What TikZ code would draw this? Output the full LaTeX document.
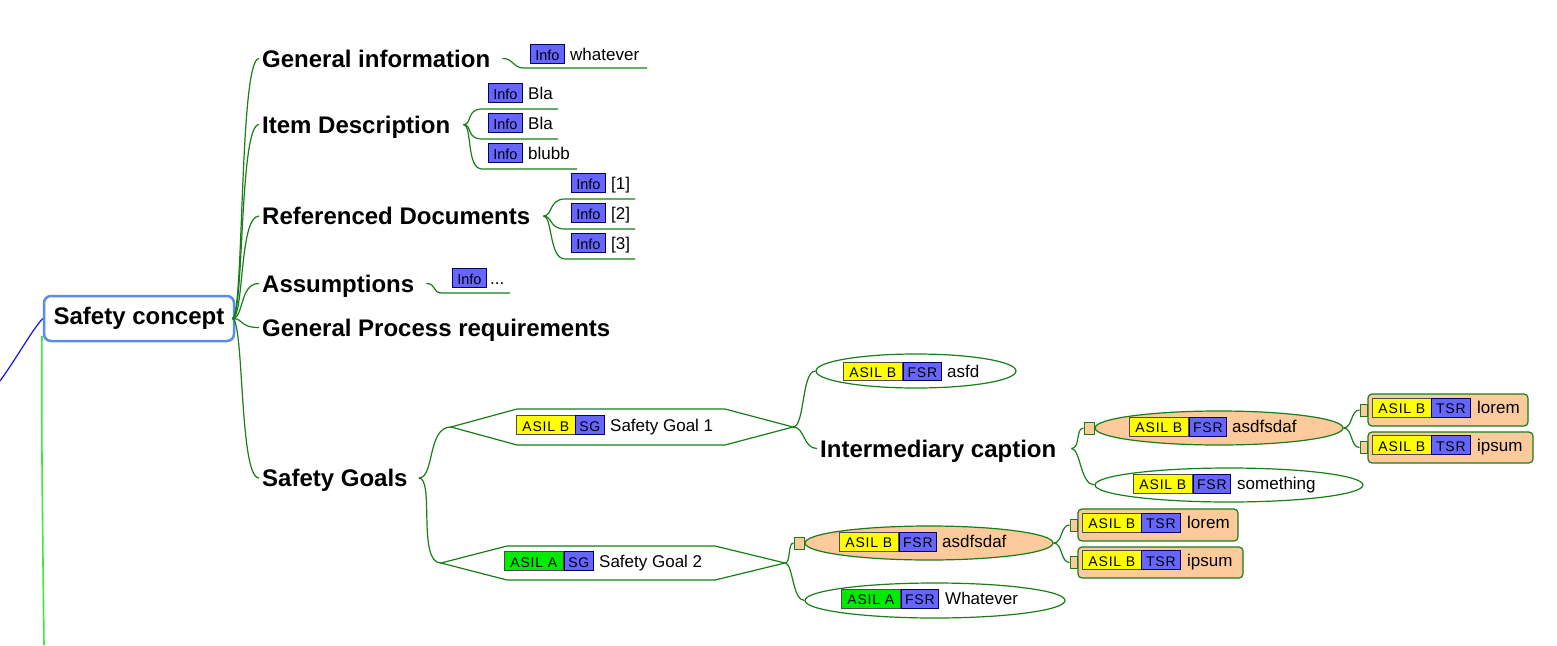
\documentclass[tikz,border=0pt]{standalone}
\usepackage{fontspec}
\setmainfont{Liberation Sans}
\newfontfamily\tagfont[LetterSpace=6]{Liberation Sans}
\usetikzlibrary{shapes.geometric}
\definecolor{lg}{RGB}{25,125,25}
\definecolor{tagblue}{RGB}{102,102,255}
\definecolor{tagyel}{RGB}{255,255,0}
\definecolor{taggrn}{RGB}{0,235,0}
\definecolor{orng}{RGB}{252,202,155}
\definecolor{rootblue}{RGB}{90,140,240}
\definecolor{brgreen}{RGB}{60,235,60}
\definecolor{lineblue}{RGB}{20,20,230}
\begin{document}
\begin{tikzpicture}[x=1pt,y=-1pt,
  conn/.style={draw=lg, line width=1.2},
  big/.style={font=\fontsize{24}{27}\selectfont\bfseries, inner xsep=3, inner ysep=0, text height=17, text depth=0, anchor=west},
  small/.style={font=\fontsize{17}{19}\selectfont, inner sep=0, text height=12, text depth=0, anchor=west},
  tagbase/.style={inner sep=0, minimum height=19, text height=12, text depth=0, anchor=west, line width=0.7},
  infotag/.style={tagbase, font=\fontsize{14.5}{16}\selectfont, fill=tagblue, draw=blue!40!black, minimum width=34},
  tagY/.style={tagbase, font=\tagfont\fontsize{14}{15}\selectfont, fill=tagyel, draw=black!70, minimum width=59},
  tagG/.style={tagbase, font=\tagfont\fontsize{14}{15}\selectfont, fill=taggrn, draw=black!70, minimum width=59},
  tagB/.style={tagbase, font=\tagfont\fontsize{14}{15}\selectfont, fill=tagblue, draw=blue!40!black, minimum width=37},
  rootbox/.style={draw=rootblue, line width=2.5, rounded corners=7, fill=white, minimum width=190, minimum height=45, inner sep=0, font=\fontsize{24}{27}\selectfont\bfseries},
  ell/.style={ellipse, draw=lg, line width=1.2, fill=white, inner sep=0},
  oell/.style={ell, fill=orng},
  sq/.style={draw=lg, line width=1, fill=orng, inner sep=0, minimum width=10, minimum height=12},
  sqs/.style={draw=lg, line width=1, fill=orng, inner sep=0, minimum width=7, minimum height=12},
  rbox/.style={draw=lg, line width=1.2, fill=orng, rounded corners=4, inner sep=0},
  hexa/.style={draw=lg, line width=1.2, fill=white}
]
\useasboundingbox (0,0) rectangle (1557,645);

% root
\node[rootbox] (root) at (139,318.5) {Safety concept};
\coordinate (bl) at (0,381);
\draw[draw=lineblue, line width=1.2] (bl) .. controls (18,356) and (32,330) .. (root.west);
\coordinate (gtop) at (42,336);
\coordinate (gbot) at (44,645);
\draw[draw=brgreen, line width=1.6] (gtop) .. controls (41,420) and (43,560) .. (gbot);

% first level
\node[big] (gi) at (259,58.5) {General information};
\node[big] (id) at (259,124.5) {Item Description};
\node[big] (rd) at (259,216) {Referenced Documents};
\node[big] (as) at (259,283.5) {Assumptions};
\node[big] (gp) at (259,327.5) {General Process requirements};
\node[big] (sgs) at (259,478) {Safety Goals};

\foreach \n in {gi,id,rd,as,gp,sgs}
  \draw[conn] ([xshift=-3]root.east) .. controls +(12,0) and +(-20,0) .. (\n.west);

% General information
\node[infotag] (gi1) at (530,54) {Info};
\node[small] (gi1t) at (570,54) {whatever};
\coordinate (gi1a) at (524,68); \coordinate (gi1b) at (647,68);
\draw[conn] ([xshift=9]gi.east) .. controls +(12,0) and +(-12,0) .. (gi1a) -- (gi1b);

% Item Description
\node[infotag] (id1) at (488,93) {Info};
\node[small] (id1t) at (528,93) {Bla};
\node[infotag] (id2) at (488,123) {Info};
\node[small] (id2t) at (528,123) {Bla};
\node[infotag] (id3) at (488,153) {Info};
\node[small] (id3t) at (528,153) {blubb};
\coordinate (id1a) at (482,109); \coordinate (id1b) at (558,109);
\coordinate (id2a) at (482,139); \coordinate (id2b) at (558,139);
\coordinate (id3a) at (482,169); \coordinate (id3b) at (577,169);
\foreach \k in {1,2,3}
  \draw[conn] ([xshift=10]id.east) .. controls +(9,0) and +(-16,0) .. (id\k a) -- (id\k b);

% Referenced Documents
\node[infotag] (rd1) at (571,183) {Info};
\node[small] (rd1t) at (611,183) {[1]};
\node[infotag] (rd2) at (571,213) {Info};
\node[small] (rd2t) at (611,213) {[2]};
\node[infotag] (rd3) at (571,243) {Info};
\node[small] (rd3t) at (611,243) {[3]};
\coordinate (rd1a) at (565,199); \coordinate (rd1b) at (635,199);
\coordinate (rd2a) at (565,229); \coordinate (rd2b) at (635,229);
\coordinate (rd3a) at (565,259); \coordinate (rd3b) at (635,259);
\foreach \k in {1,2,3}
  \draw[conn] ([xshift=10]rd.east) .. controls +(9,0) and +(-16,0) .. (rd\k a) -- (rd\k b);

% Assumptions
\node[infotag] (as1) at (452,278) {Info};
\node[small] (as1t) at (490,278) {...};
\coordinate (as1a) at (442,293); \coordinate (as1b) at (510,293);
\draw[conn] ([xshift=9]as.east) .. controls +(10,0) and +(-10,0) .. (as1a) -- (as1b);

% Safety goal hexagons
\coordinate (sg1L) at (451,427);
\coordinate (sg1R) at (793,427);
\draw[hexa] (sg1L) -- (517,409) -- (725,409) -- (sg1R) -- (725,445) -- (517,445) -- cycle;
\node[tagY] (sg1y) at (516,425) {ASIL B};
\node[tagB, minimum width=29] (sg1b) at (575,425) {SG};
\node[small] (sg1t) at (610,425) {Safety Goal 1};

\coordinate (sg2L) at (441,563);
\coordinate (sg2R) at (785,563);
\draw[hexa] (sg2L) -- (507,546) -- (715,546) -- (sg2R) -- (715,580) -- (507,580) -- cycle;
\node[tagG] (sg2y) at (504,561) {ASIL A};
\node[tagB, minimum width=29] (sg2b) at (564,561) {SG};
\node[small] (sg2t) at (599,561) {Safety Goal 2};

\draw[conn] ([xshift=8]sgs.east) .. controls +(16,0) and +(-24,0) .. (sg1L);
\draw[conn] ([xshift=8]sgs.east) .. controls +(16,0) and +(-24,0) .. (sg2L);

% SG1 children
\node[ell, minimum width=200, minimum height=34] (e1) at (916,371) {};
\node[tagY, minimum height=18] (e1y) at (843,371) {ASIL B};
\node[tagB, minimum height=18, minimum width=38] (e1b) at (903,371) {FSR};
\node[small] (e1t) at (947,371) {asfd};
\node[big] (ic) at (817,448.5) {Intermediary caption};
\draw[conn] (sg1R) .. controls +(12,0) and +(-14,0) .. (e1.west);
\draw[conn] (sg1R) .. controls +(12,0) and +(-14,0) .. (ic.west);

% Intermediary caption children (group A)
\node[sq] (a0) at (1089,428) {};
\node[oell, minimum width=248, minimum height=34] (a1) at (1219,428) {};
\node[tagY] (a1y) at (1129,426.5) {ASIL B};
\node[tagB] (a1b) at (1189,426.5) {FSR};
\node[small] (a1t) at (1232,426.5) {asdfsdaf};
\node[ell, minimum width=268, minimum height=34] (a2) at (1229,485) {};
\node[tagY] (a2y) at (1133,483.5) {ASIL B};
\node[tagB] (a2b) at (1193,483.5) {FSR};
\node[small] (a2t) at (1237,483.5) {something};
\draw[conn] ([xshift=12]ic.east) .. controls +(9,0) and +(-8,0) .. (a0.west);
\draw[conn] ([xshift=12]ic.east) .. controls +(9,0) and +(-14,0) .. (a2.west);

\node[sqs] (a3s) at (1363.5,410) {};
\node[rbox, minimum width=160, minimum height=32] (a3) at (1448,410) {};
\node[tagY] (a3y) at (1372,407.5) {ASIL B};
\node[tagB, minimum width=39] (a3b) at (1431,407.5) {TSR};
\node[small] (a3t) at (1477,407.5) {lorem};
\node[sqs] (a4s) at (1363.5,447.5) {};
\node[rbox, minimum width=165, minimum height=31] (a4) at (1450.5,447.5) {};
\node[tagY] (a4y) at (1372,445) {ASIL B};
\node[tagB, minimum width=39] (a4b) at (1431,445) {TSR};
\node[small] (a4t) at (1477,445) {ipsum};
\draw[conn] (a1.east) .. controls +(9,0) and +(-9,0) .. (a3s.west);
\draw[conn] (a1.east) .. controls +(9,0) and +(-9,0) .. (a4s.west);

% SG2 children (group B)
\node[sq] (b0) at (799,543) {};
\node[oell, minimum width=248, minimum height=34] (b1) at (929,543) {};
\node[tagY] (b1y) at (839,541.5) {ASIL B};
\node[tagB] (b1b) at (899,541.5) {FSR};
\node[small] (b1t) at (942,541.5) {asdfsdaf};
\node[ell, minimum width=260, minimum height=35] (b2) at (935,600.5) {};
\node[tagG] (b2y) at (841,598.5) {ASIL A};
\node[tagB] (b2b) at (901,598.5) {FSR};
\node[small] (b2t) at (945,598.5) {Whatever};
\draw[conn] (sg2R) .. controls +(6,0) and +(-6,0) .. (b0.west);
\draw[conn] (sg2R) .. controls +(8,0) and +(-12,0) .. (b2.west);

\node[sqs] (b3s) at (1073.5,525) {};
\node[rbox, minimum width=160, minimum height=32] (b3) at (1158,525) {};
\node[tagY] (b3y) at (1082,522.5) {ASIL B};
\node[tagB, minimum width=39] (b3b) at (1141,522.5) {TSR};
\node[small] (b3t) at (1187,522.5) {lorem};
\node[sqs] (b4s) at (1073.5,562.5) {};
\node[rbox, minimum width=165, minimum height=31] (b4) at (1160.5,562.5) {};
\node[tagY] (b4y) at (1082,560) {ASIL B};
\node[tagB, minimum width=39] (b4b) at (1141,560) {TSR};
\node[small] (b4t) at (1187,560) {ipsum};
\draw[conn] (b1.east) .. controls +(9,0) and +(-9,0) .. (b3s.west);
\draw[conn] (b1.east) .. controls +(9,0) and +(-9,0) .. (b4s.west);
\end{tikzpicture}
\end{document}
